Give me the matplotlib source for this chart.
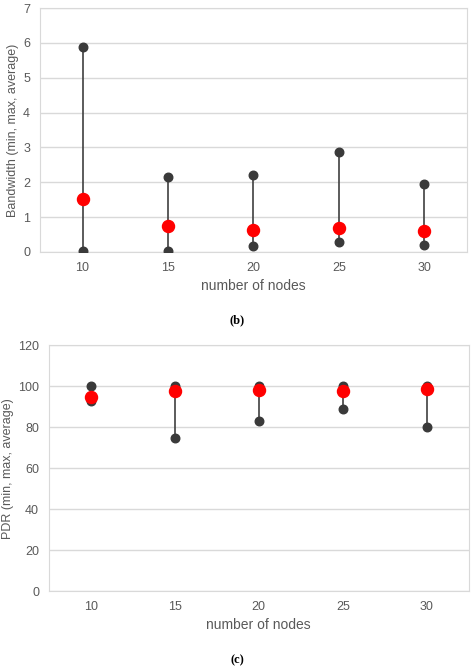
import numpy as np
import matplotlib
matplotlib.use("Agg")
import matplotlib.pyplot as plt

nodes = ["10", "15", "20", "25", "30"]
bw_max = [5.88, 2.15, 2.2, 2.86, 1.94]
bw_min = [0.03, 0.01, 0.17, 0.27, 0.2]
bw_avg = [1.52, 0.73, 0.63, 0.69, 0.59]
pdr_max = [100, 100, 100, 100, 100]
pdr_min = [93, 75, 83.3, 88.9, 80]
pdr_avg = [95, 97.5, 98.2, 97.7, 98.8]

plt.rcParams['font.family'] = ['Liberation Sans', 'DejaVu Sans']
grey = "#595959"
grid = "#d9d9d9"

fig = plt.figure(figsize=(4.74, 6.68), dpi=100)

def panel(rect, mx, mn, av, ymax, step, ylabel):
    ax = fig.add_axes(rect)
    x = np.arange(len(nodes))
    ax.vlines(x, mn, mx, color="#404040", lw=1.2, zorder=2)
    ax.scatter(x, mx, s=38, color="#3a3a3a", zorder=3)
    ax.scatter(x, mn, s=38, color="#3a3a3a", zorder=3)
    ax.scatter(x, av, s=75, color="#ff0000", zorder=4)
    ax.set_xlim(-0.5, len(nodes) - 0.5)
    ax.set_ylim(0, ymax)
    ax.set_yticks(np.arange(0, ymax + step / 2, step))
    ax.set_xticks(x)
    ax.set_xticklabels(nodes)
    ax.grid(axis="y", color=grid, lw=1)
    ax.set_axisbelow(True)
    for s in ax.spines.values():
        s.set_color(grid)
    ax.tick_params(length=0, colors=grey, labelsize=9, pad=7)
    ax.set_xlabel("number of nodes", color=grey, fontsize=10)
    ax.set_ylabel(ylabel, color=grey, fontsize=9, labelpad=3)
    return ax

panel([0.084, 0.623, 0.901, 0.365], bw_max, bw_min, bw_avg, 7, 1,
      "Bandwidth (min, max, average)")
panel([0.103, 0.115, 0.886, 0.368], pdr_max, pdr_min, pdr_avg, 120, 20,
      "PDR (min, max, average)")

fig.text(0.5, 1 - 320 / 668, "(b)", ha="center", va="center", fontsize=9,
         family="Liberation Serif", weight="bold")
fig.text(0.5, 1 - 660 / 668, "(c)", ha="center", va="center", fontsize=9,
         family="Liberation Serif", weight="bold")

fig.savefig("out.png", dpi=100)
